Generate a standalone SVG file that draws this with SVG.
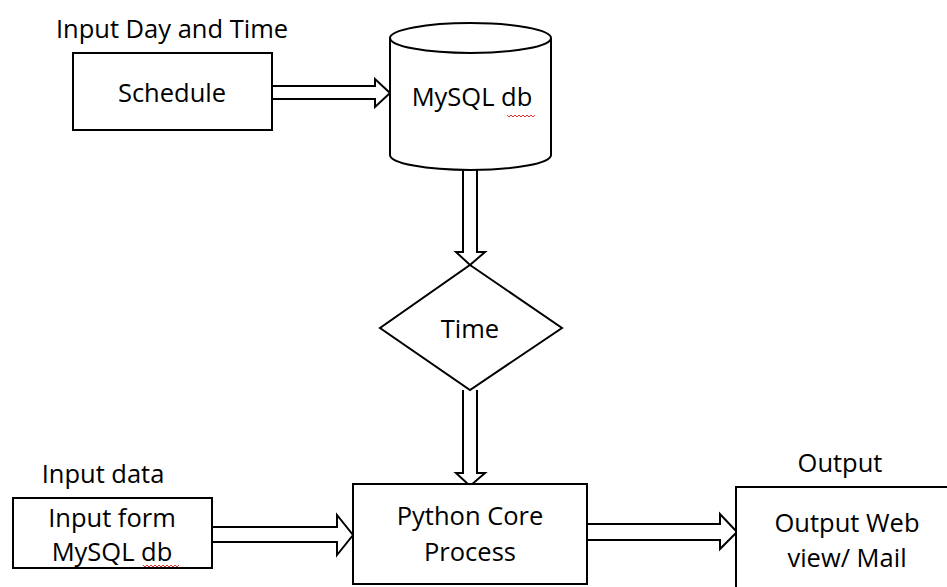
<svg xmlns="http://www.w3.org/2000/svg" width="947" height="587" viewBox="0 0 947 587">
<style>
.box{fill:#fff;stroke:#000;stroke-width:2}
.arr{fill:#fff;stroke:#000;stroke-width:2;stroke-linejoin:miter}
text{font-family:"Open Sans","Liberation Sans",sans-serif;font-size:25.5px;fill:#000}
.c{text-anchor:middle}
.sq{fill:none;stroke:#e03030;stroke-width:1}
</style>
<rect width="947" height="587" fill="#fff"/>
<g id="connectors">
<path class="arr" d="M272,86 H375 V79 L390,93 L375,107 V99 H272"/>
<path class="arr" d="M463,170 V252 H456 L470,265 L485,252 H477 V170"/>
<path class="arr" d="M463,390 V473 H456 L470,486 L485,473 H477 V390"/>
<path class="arr" d="M212,527 H337 V515 L353,535 L337,555 V542 H212"/>
<path class="arr" d="M587,524 H720 V514 L737,532 L720,549 V540 H587"/>
</g>
<g id="label-input-day">
<text x="172" y="38" class="c">Input Day and Time</text>
</g>
<g id="schedule">
<rect class="box" x="73" y="53" width="199" height="77"/>
<text x="172" y="102" class="c">Schedule</text>
</g>
<g id="mysql">
<path class="box" d="M390,38 V155 A80.5,15 0 0 0 551,155 V38"/>
<ellipse class="box" cx="470.5" cy="38" rx="80.5" ry="15"/>
<text x="472" y="106" class="c">MySQL db</text>
<path class="sq" d="M507,115 l2,2 l2,-2 l2,2 l2,-2 l2,2 l2,-2 l2,2 l2,-2 l2,2 l2,-2 l2,2 l2,-2 l2,2 l2,-2"/>
</g>
<g id="time">
<polygon class="box" points="470,265 562,328 470,390 380,328"/>
<text x="470" y="338" class="c">Time</text>
</g>
<g id="label-input-data">
<text x="103" y="483" class="c">Input data</text>
</g>
<g id="input-form">
<rect class="box" x="13" y="498" width="199" height="70"/>
<text x="112" y="527" class="c">Input form</text>
<text x="112" y="561" class="c">MySQL db</text>
<path class="sq" d="M143,565 l2,2 l2,-2 l2,2 l2,-2 l2,2 l2,-2 l2,2 l2,-2 l2,2 l2,-2 l2,2 l2,-2 l2,2 l2,-2 l2,2 l2,-2 l2,2 l2,-2"/>
</g>
<g id="python">
<rect class="box" x="353" y="484" width="234" height="100"/>
<text x="470" y="525" class="c">Python Core</text>
<text x="470" y="561" class="c">Process</text>
</g>
<g id="label-output">
<text x="840" y="472" class="c">Output</text>
</g>
<g id="output">
<rect class="box" x="736" y="487" width="216" height="105"/>
<text x="847" y="532" class="c">Output Web</text>
<text x="847" y="567" class="c">view/ Mail</text>
</g>
</svg>
